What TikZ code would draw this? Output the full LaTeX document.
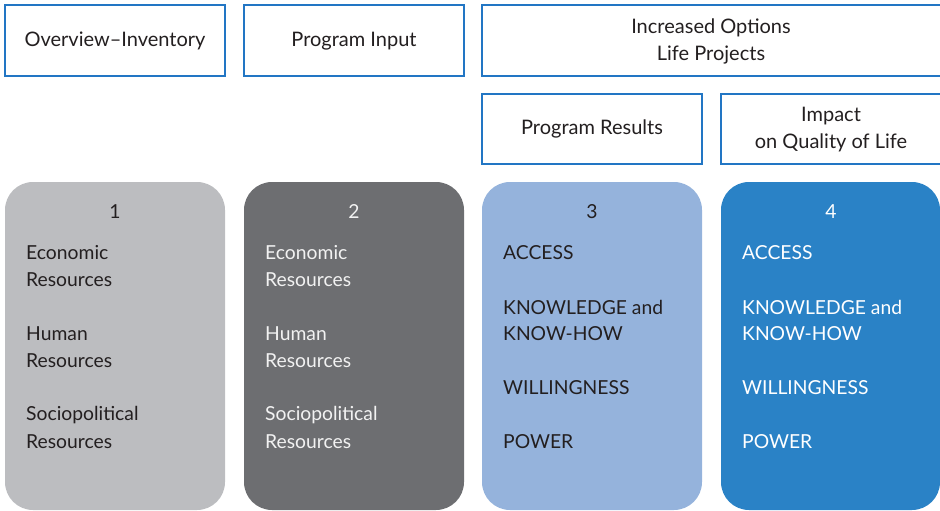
\documentclass[tikz,border=0pt]{standalone}
\usepackage{fontspec}
\setmainfont{Lato}
\definecolor{frameblue}{HTML}{2276C4}
\definecolor{gA}{HTML}{BCBDC0}
\definecolor{gB}{HTML}{6D6E71}
\definecolor{bA}{HTML}{95B3DC}
\definecolor{bB}{HTML}{2A82C6}
\definecolor{ink}{HTML}{231F20}
\definecolor{inkw}{HTML}{F2F2F2}
\begin{document}
\begin{tikzpicture}[x=1pt,y=-1pt,
  hdr/.style={draw=frameblue,line width=1.4pt,fill=white},
  hdrtext/.style={align=center,font=\fontsize{20}{27}\selectfont,text=ink},
  col/.style={rounded corners=28pt},
  itm/.style={anchor=west,inner sep=0pt,font=\fontsize{19.3}{26}\selectfont},
  num/.style={inner sep=0pt,font=\fontsize{19.3}{26}\selectfont}]
\useasboundingbox (0,0) rectangle (940,511);
% header boxes
\draw[hdr] (5,5) rectangle (225,76);
\node[hdrtext] (h1) at (115,41) {Overview–Inventory};
\draw[hdr] (244,5) rectangle (464,76);
\node[hdrtext] (h2) at (354,41) {Program Input};
\draw[hdr] (482,5) rectangle (948,76);
\node[hdrtext] (h3) at (711,41) {Increased Options\\Life Projects};
\draw[hdr] (482,94) rectangle (702,164);
\node[hdrtext] (h4) at (592,129) {Program Results};
\draw[hdr] (721,94) rectangle (948,164);
\node[hdrtext] (h5) at (831,130) {Impact\\on Quality of Life};
% columns
\fill[col,gA] (5,182) rectangle (225,510);
\fill[col,gB] (244,182) rectangle (464,510);
\fill[col,bA] (482,182) rectangle (702,510);
\fill[col,bB] (721,182) rectangle (940,510);
% column 1
\node[num,text=ink] (n1) at (115,212) {1};
\node[itm,text=ink] (a1) at (26,253) {Economic};
\node[itm,text=ink] (a2) at (26,280) {Resources};
\node[itm,text=ink] (a3) at (26,334) {Human};
\node[itm,text=ink] (a4) at (26,361) {Resources};
\node[itm,text=ink] (a5) at (26,415) {Sociopolitical};
\node[itm,text=ink] (a6) at (26,442) {Resources};
% column 2
\node[num,text=inkw] (n2) at (354,212) {2};
\node[itm,text=inkw] (b1) at (265,253) {Economic};
\node[itm,text=inkw] (b2) at (265,280) {Resources};
\node[itm,text=inkw] (b3) at (265,334) {Human};
\node[itm,text=inkw] (b4) at (265,361) {Resources};
\node[itm,text=inkw] (b5) at (265,415) {Sociopolitical};
\node[itm,text=inkw] (b6) at (265,442) {Resources};
% column 3
\node[num,text=ink] (n3) at (592,212) {3};
\node[itm,text=ink] (c1) at (503,253) {ACCESS};
\node[itm,text=ink] (c2) at (503,307) {KNOWLEDGE and};
\node[itm,text=ink] (c3) at (503,334) {KNOW-HOW};
\node[itm,text=ink] (c4) at (503,388) {WILLINGNESS};
\node[itm,text=ink] (c5) at (503,442) {POWER};
% column 4
\node[num,text=white] (n4) at (831,212) {4};
\node[itm,text=white] (d1) at (742,253) {ACCESS};
\node[itm,text=white] (d2) at (742,307) {KNOWLEDGE and};
\node[itm,text=white] (d3) at (742,334) {KNOW-HOW};
\node[itm,text=white] (d4) at (742,388) {WILLINGNESS};
\node[itm,text=white] (d5) at (742,442) {POWER};
\end{tikzpicture}
\end{document}
